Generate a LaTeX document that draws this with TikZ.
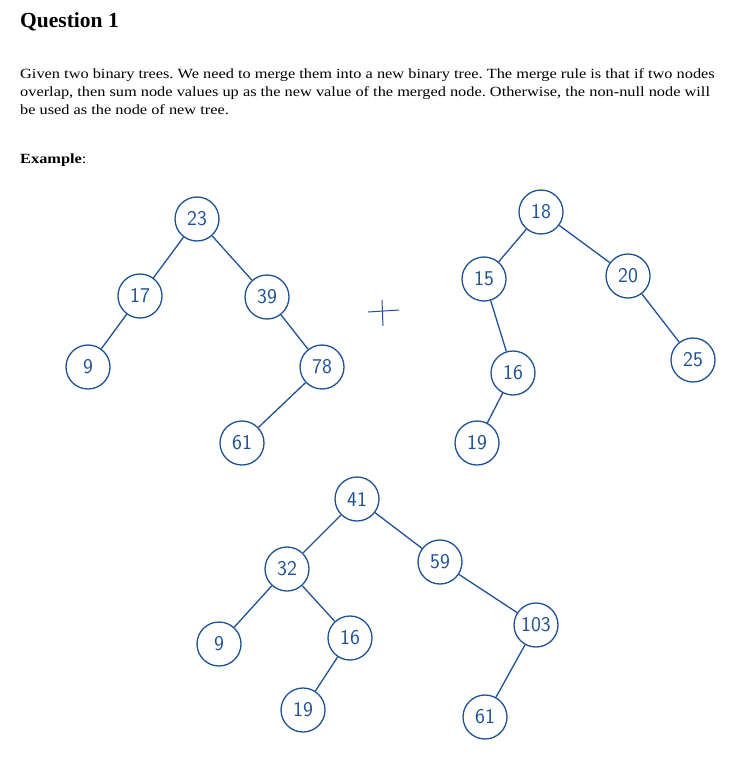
\documentclass[tikz,border=0pt]{standalone}
\usepackage{fontspec}
\setmainfont{Liberation Serif}
\usepackage{graphicx}
\usepackage{tikz}
\usetikzlibrary{positioning}
\usepackage{xcolor}
\definecolor{ink}{RGB}{30,82,150}
\newcommand{\widetext}[1]{\scalebox{1.167}[1]{#1}}
\frenchspacing

\tikzset{
  tnode/.style={circle,draw=ink,line width=1.3pt,minimum size=44pt,inner sep=0pt,
    text=ink,font=\fontsize{21}{21}\sffamily},
  tedge/.style={draw=ink,line width=1.3pt},
  para/.style={anchor=base west,inner sep=0pt,font=\fontsize{14}{17}\selectfont}
}

\begin{document}
\begin{tikzpicture}[x=1pt,y=-1pt]
    \useasboundingbox (0,0) rectangle (751,773);
    % heading and question text
    \node[anchor=base west,inner sep=0pt,font=\fontsize{21.5}{24}\bfseries] (title) at (20,28) {Question 1};
    \node[para] (line1) at (20,78.3) {\widetext{Given two binary trees. We need to merge them into a new binary tree. The merge rule is that if two nodes}};
    \node[para] (line2) at (20,96.7) {\widetext{overlap, then sum node values up as the new value of the merged node. Otherwise, the non-null node will}};
    \node[para] (line3) at (20,115) {\widetext{be used as the node of new tree.}};
    \node[para] (example) at (20,163) {\widetext{\textbf{Example}:}};
    % first tree
    \node[tnode] (a23) at (197,219) {23};
    \node[tnode] (a17) at (140,296) {17};
    \node[tnode] (a39) at (267,297) {39};
    \node[tnode] (a9) at (88,367) {9};
    \node[tnode] (a78) at (322,367) {78};
    \node[tnode] (a61) at (242,443) {61};
    \draw[tedge] (a23) -- (a17);
    \draw[tedge] (a23) -- (a39);
    \draw[tedge] (a17) -- (a9);
    \draw[tedge] (a39) -- (a78);
    \draw[tedge] (a78) -- (a61);
    % plus sign
    \draw[tedge,line width=1pt] (368,312) -- (399,310);
    \draw[tedge,line width=1pt] (382,300) -- (383,326);
    % second tree
    \node[tnode] (b18) at (541,212) {18};
    \node[tnode] (b15) at (484,279) {15};
    \node[tnode] (b20) at (628,276) {20};
    \node[tnode] (b16) at (513,373) {16};
    \node[tnode] (b25) at (693,360) {25};
    \node[tnode] (b19) at (477,443) {19};
    \draw[tedge] (b18) -- (b15);
    \draw[tedge] (b18) -- (b20);
    \draw[tedge] (b15) -- (b16);
    \draw[tedge] (b20) -- (b25);
    \draw[tedge] (b16) -- (b19);
    % merged tree
    \node[tnode] (c41) at (357,499) {41};
    \node[tnode] (c32) at (287,569) {32};
    \node[tnode] (c59) at (440,562) {59};
    \node[tnode] (c9) at (219,644) {9};
    \node[tnode] (c16) at (350,638) {16};
    \node[tnode] (c103) at (536,625) {103};
    \node[tnode] (c19) at (303,710) {19};
    \node[tnode] (c61) at (485,717) {61};
    \draw[tedge] (c41) -- (c32);
    \draw[tedge] (c41) -- (c59);
    \draw[tedge] (c32) -- (c9);
    \draw[tedge] (c32) -- (c16);
    \draw[tedge] (c16) -- (c19);
    \draw[tedge] (c59) -- (c103);
    \draw[tedge] (c103) -- (c61);
\end{tikzpicture}
\end{document}
